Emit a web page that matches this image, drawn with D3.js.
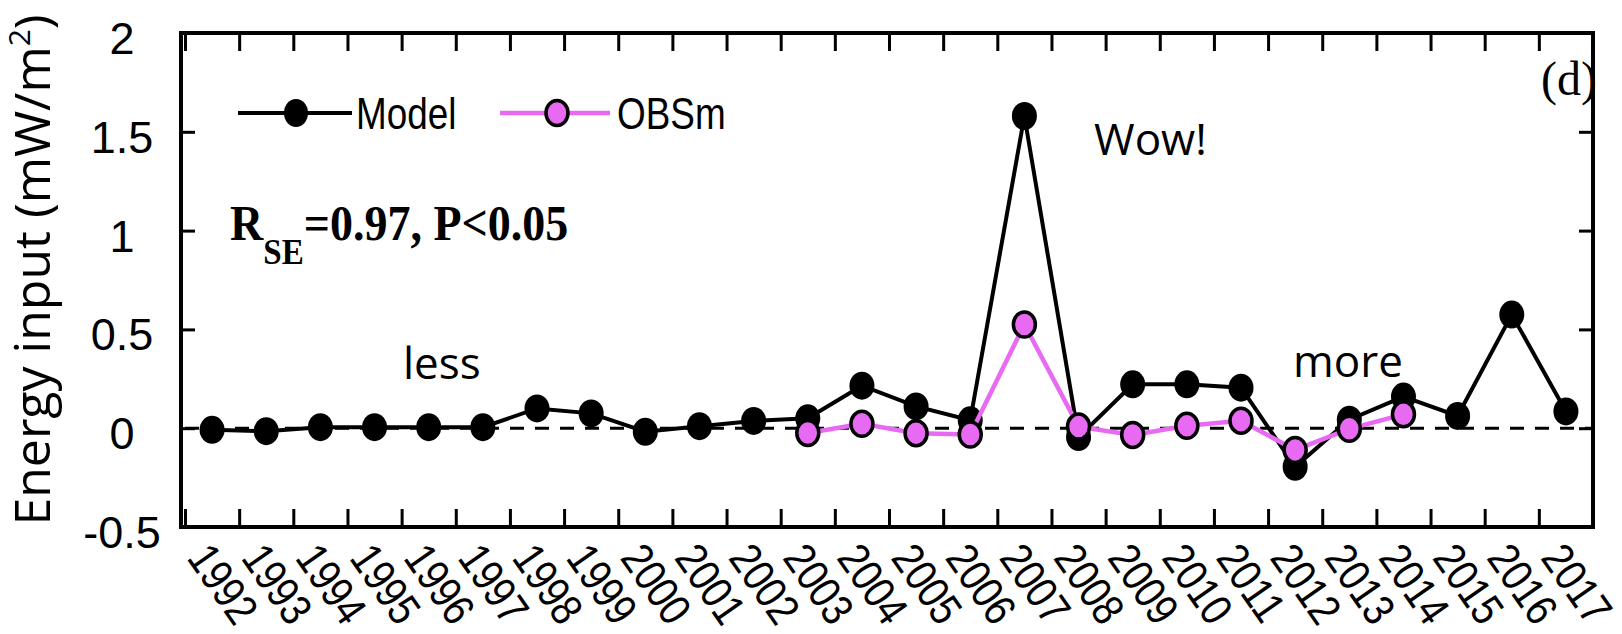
<!DOCTYPE html>
<html>
<head>
  <meta charset="utf-8">
  <title>Energy input</title>
  <script src="https://d3js.org/d3.v7.min.js"></script>
  <style>
    body { margin: 0; background: #fff; }
  </style>
</head>
<body>
  <div id="chart"></div>
  <script>
    // values
    var years = [1992, 1993, 1994, 1995, 1996, 1997, 1998, 1999, 2000, 2001, 2002, 2003, 2004,
                 2005, 2006, 2007, 2008, 2009, 2010, 2011, 2012, 2013, 2014, 2015, 2016, 2017];
    var model = [-0.008, -0.015, 0.005, 0.005, 0.005, 0.005, 0.1, 0.075, -0.018, 0.01, 0.037, 0.05, 0.215,
                 0.11, 0.04, 1.58, -0.045, 0.222, 0.222, 0.205, -0.195, 0.043, 0.16, 0.062, 0.575, 0.085];
    var obsm = [null, null, null, null, null, null, null, null, null, null, null, -0.024, 0.022,
                -0.025, -0.032, 0.525, 0.008, -0.034, 0.012, 0.038, -0.11, -0.003, 0.07, null, null, null];
    var yTicks = [-0.5, 0, 0.5, 1, 1.5, 2];
    var yTickLabels = ["-0.5", "0", "0.5", "1", "1.5", "2"];

    var width = 1622, height = 634;
    var plotLeft = 185, plotRight = 1593, plotTop = 33, plotBottom = 527;
    var magenta = "#e86af2";
    var sansFont = "'Liberation Sans', Arial, sans-serif";

    var svg = d3.select("#chart").append("svg")
      .attr("width", width)
      .attr("height", height);

    var x = d3.scaleBand().domain(years).range([plotLeft, plotRight]).padding(0);
    var xEdge = d3.scaleLinear().domain([0, years.length]).range([plotLeft, plotRight]);
    var y = d3.scaleLinear().domain([-0.5, 2]).range([plotBottom, plotTop]);
    function cx(d) { return x(d) + x.bandwidth() / 2; }

    // zero line
    svg.append("line")
      .attr("x1", plotLeft).attr("x2", plotRight)
      .attr("y1", y(0)).attr("y2", y(0))
      .attr("stroke", "#000").attr("stroke-width", 3)
      .attr("stroke-dasharray", "14,11");

    function tickStyle(g) {
      g.select(".domain").remove();
      g.selectAll("line").attr("stroke", "#000").attr("stroke-width", 3);
    }

    // x ticks (inward, at band edges), bottom and top
    var edgeTicks = d3.range(0, years.length);
    svg.append("g")
      .attr("transform", "translate(0," + plotBottom + ")")
      .call(d3.axisBottom(xEdge).tickValues(edgeTicks).tickSize(-18).tickFormat(""))
      .call(tickStyle);
    svg.append("g")
      .attr("transform", "translate(0," + plotTop + ")")
      .call(d3.axisTop(xEdge).tickValues(edgeTicks).tickSize(-18).tickFormat(""))
      .call(tickStyle);

    // y ticks left and right
    svg.append("g")
      .attr("transform", "translate(" + (plotLeft - 4) + ",0)")
      .call(d3.axisLeft(y).tickValues(yTicks).tickSize(-14).tickFormat(""))
      .call(tickStyle);
    svg.append("g")
      .attr("transform", "translate(" + plotRight + ",0)")
      .call(d3.axisRight(y).tickValues(yTicks).tickSize(-14).tickFormat(""))
      .call(tickStyle);

    // y tick labels
    svg.selectAll(".ylab").data(yTicks).enter().append("text")
      .attr("class", "ylab")
      .attr("x", 122)
      .attr("y", function(d) { return y(d) + 21; })
      .attr("text-anchor", "middle")
      .style("font-family", sansFont)
      .style("font-size", "45px")
      .text(function(d, i) { return yTickLabels[i]; });

    // x tick labels, rotated
    svg.selectAll(".xlab").data(years).enter().append("text")
      .attr("class", "xlab")
      .attr("transform", function(d) { return "translate(" + (x(d) + 1) + "," + (plotBottom + 31) + ") rotate(55) scale(0.85,1)"; })
      .style("font-family", sansFont)
      .style("font-size", "45px")
      .text(function(d) { return d; });

    // frame
    svg.append("rect")
      .attr("x", plotLeft - 4).attr("y", plotTop)
      .attr("width", plotRight - plotLeft + 4).attr("height", plotBottom - plotTop)
      .attr("fill", "none").attr("stroke", "#000").attr("stroke-width", 4);

    // y axis title
    var title = svg.append("text")
      .attr("transform", "translate(50,270) rotate(-90)")
      .attr("text-anchor", "middle")
      .style("font-family", "'Open Sans', sans-serif")
      .style("font-size", "50px");
    title.append("tspan").text("Energy input (mW/m");
    title.append("tspan").attr("dy", -20).style("font-size", "30px").text("2");
    title.append("tspan").attr("dy", 20).text(")");

    // series
    var modelPts = years.map(function(d, i) { return { year: d, v: model[i] }; });
    var obsPts = years.map(function(d, i) { return { year: d, v: obsm[i] }; })
      .filter(function(d) { return d.v !== null; });

    var line = d3.line()
      .x(function(d) { return cx(d.year); })
      .y(function(d) { return y(d.v); });

    svg.append("path").datum(modelPts)
      .attr("d", line)
      .attr("fill", "none").attr("stroke", "#000").attr("stroke-width", 4);
    svg.selectAll(".mdot").data(modelPts).enter().append("ellipse")
      .attr("class", "mdot")
      .attr("cx", function(d) { return cx(d.year); })
      .attr("cy", function(d) { return y(d.v); })
      .attr("rx", 12.5).attr("ry", 14)
      .attr("fill", "#000");

    svg.append("path").datum(obsPts)
      .attr("d", line)
      .attr("fill", "none").attr("stroke", magenta).attr("stroke-width", 4.5);
    svg.selectAll(".odot").data(obsPts).enter().append("ellipse")
      .attr("class", "odot")
      .attr("cx", function(d) { return cx(d.year); })
      .attr("cy", function(d) { return y(d.v); })
      .attr("rx", 11).attr("ry", 12.5)
      .attr("fill", magenta).attr("stroke", "#000").attr("stroke-width", 3.5);

    // legend
    var legend = svg.append("g");
    legend.append("line").attr("x1", 238).attr("x2", 352).attr("y1", 113).attr("y2", 113)
      .attr("stroke", "#000").attr("stroke-width", 4);
    legend.append("ellipse").attr("cx", 296).attr("cy", 113).attr("rx", 12).attr("ry", 14).attr("fill", "#000");
    legend.append("text").attr("transform", "translate(356,129) scale(0.82,1)")
      .style("font-family", sansFont)
      .style("font-size", "45px").text("Model");
    legend.append("line").attr("x1", 500).attr("x2", 610).attr("y1", 113).attr("y2", 113)
      .attr("stroke", magenta).attr("stroke-width", 4.5);
    legend.append("ellipse").attr("cx", 557).attr("cy", 113).attr("rx", 11).attr("ry", 12.5)
      .attr("fill", magenta).attr("stroke", "#000").attr("stroke-width", 3.5);
    legend.append("text").attr("transform", "translate(617,129) scale(0.82,1)")
      .style("font-family", sansFont)
      .style("font-size", "45px").text("OBSm");

    // annotations
    var stat = svg.append("text").attr("transform", "translate(230,240) scale(0.92,1)")
      .style("font-family", "'Liberation Serif', 'Times New Roman', serif")
      .style("font-weight", "bold").style("font-size", "50px");
    stat.append("tspan").text("R");
    stat.append("tspan").attr("dy", 24).style("font-size", "36px").text("SE");
    stat.append("tspan").attr("dy", -24).text("=0.97, P<0.05");

    svg.append("text").attr("x", 1541).attr("y", 95)
      .style("font-family", "'Liberation Serif', 'Times New Roman', serif")
      .style("font-size", "48px").text("(d)");

    var notes = [
      { t: "less", x: 403, y: 379 },
      { t: "more", x: 1293, y: 377 },
      { t: "Wow!", x: 1094, y: 155 }
    ];
    svg.selectAll(".note").data(notes).enter().append("text")
      .attr("class", "note")
      .attr("x", function(d) { return d.x; })
      .attr("y", function(d) { return d.y; })
      .style("font-family", "'Open Sans', sans-serif")
      .style("font-size", "44px")
      .text(function(d) { return d.t; });
  </script>
</body>
</html>
